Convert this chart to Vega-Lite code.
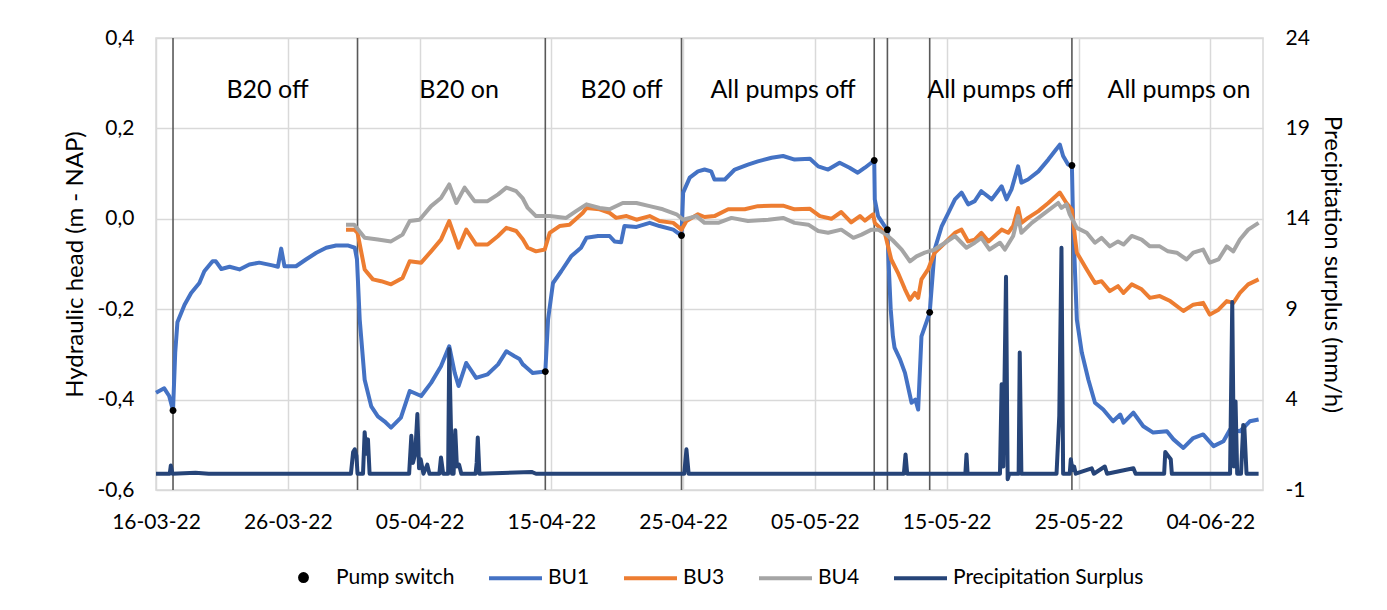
{
  "$schema": "https://vega.github.io/schema/vega-lite/v6.json",
  "autosize": {"type": "none"},
  "padding": {"left": 156, "top": 38, "right": 124, "bottom": 120},
  "width": 1107,
  "height": 452,
  "config": {
    "font": "Lato",
    "view": {"stroke": "#D9D9D9", "strokeWidth": 1.5},
    "axis": {"labelColor": "#000", "titleColor": "#000", "titleFontWeight": "normal", "labelFontSize": 21, "titleFontSize": 24, "ticks": false, "domain": false, "gridColor": "#D9D9D9", "gridWidth": 1.5}
  },
  "datasets": {
    "switches": [
      {"t": "2022-03-17T07:00", "v": -0.424},
      {"t": "2022-03-31T07:00", "v": null},
      {"t": "2022-04-14T13:00", "v": -0.338},
      {"t": "2022-04-24T21:00", "v": -0.037},
      {"t": "2022-05-09T12:00", "v": 0.129},
      {"t": "2022-05-10T12:00", "v": -0.024},
      {"t": "2022-05-13T17:00", "v": -0.207},
      {"t": "2022-05-24T12:00", "v": 0.118}
    ],
    "labels": [
      {"t": "2022-03-24T11:00", "y": 0.285, "text": "B20 off"},
      {"t": "2022-04-08T00:00", "y": 0.285, "text": "B20 on"},
      {"t": "2022-04-20T08:00", "y": 0.285, "text": "B20 off"},
      {"t": "2022-05-02T14:00", "y": 0.285, "text": "All pumps off"},
      {"t": "2022-05-19T01:00", "y": 0.285, "text": "All pumps off"},
      {"t": "2022-06-01T15:00", "y": 0.285, "text": "All pumps on"}
    ],
    "heads": [
      {"t":"2022-03-16T00:00","s":"BU1","v":-0.385},{"t":"2022-03-16T15:00","s":"BU1","v":-0.375},{"t":"2022-03-17T00:00","s":"BU1","v":-0.392},{"t":"2022-03-17T07:00","s":"BU1","v":-0.424},{"t":"2022-03-17T11:00","s":"BU1","v":-0.296},{"t":"2022-03-17T15:00","s":"BU1","v":-0.229},{"t":"2022-03-18T04:00","s":"BU1","v":-0.19},{"t":"2022-03-18T16:00","s":"BU1","v":-0.164},{"t":"2022-03-19T07:00","s":"BU1","v":-0.142},{"t":"2022-03-19T16:00","s":"BU1","v":-0.116},{"t":"2022-03-20T07:00","s":"BU1","v":-0.094},{"t":"2022-03-20T13:00","s":"BU1","v":-0.094},{"t":"2022-03-20T23:00","s":"BU1","v":-0.111},{"t":"2022-03-21T14:00","s":"BU1","v":-0.106},{"t":"2022-03-22T08:00","s":"BU1","v":-0.112},{"t":"2022-03-23T02:00","s":"BU1","v":-0.101},{"t":"2022-03-23T20:00","s":"BU1","v":-0.097},{"t":"2022-03-24T20:00","s":"BU1","v":-0.103},{"t":"2022-03-25T06:00","s":"BU1","v":-0.106},{"t":"2022-03-25T12:00","s":"BU1","v":-0.066},{"t":"2022-03-25T18:00","s":"BU1","v":-0.105},{"t":"2022-03-26T15:00","s":"BU1","v":-0.105},{"t":"2022-03-27T09:00","s":"BU1","v":-0.09},{"t":"2022-03-28T04:00","s":"BU1","v":-0.075},{"t":"2022-03-28T22:00","s":"BU1","v":-0.064},{"t":"2022-03-29T16:00","s":"BU1","v":-0.059},{"t":"2022-03-30T13:00","s":"BU1","v":-0.059},{"t":"2022-03-31T02:00","s":"BU1","v":-0.064},{"t":"2022-03-31T06:00","s":"BU1","v":-0.09},{"t":"2022-03-31T11:00","s":"BU1","v":-0.223},{"t":"2022-03-31T20:00","s":"BU1","v":-0.356},{"t":"2022-04-01T08:00","s":"BU1","v":-0.415},{"t":"2022-04-01T20:00","s":"BU1","v":-0.437},{"t":"2022-04-02T08:00","s":"BU1","v":-0.448},{"t":"2022-04-02T20:00","s":"BU1","v":-0.462},{"t":"2022-04-03T14:00","s":"BU1","v":-0.44},{"t":"2022-04-04T06:00","s":"BU1","v":-0.381},{"t":"2022-04-05T03:00","s":"BU1","v":-0.392},{"t":"2022-04-05T21:00","s":"BU1","v":-0.363},{"t":"2022-04-06T15:00","s":"BU1","v":-0.326},{"t":"2022-04-07T06:00","s":"BU1","v":-0.282},{"t":"2022-04-07T16:00","s":"BU1","v":-0.341},{"t":"2022-04-07T23:00","s":"BU1","v":-0.37},{"t":"2022-04-08T13:00","s":"BU1","v":-0.319},{"t":"2022-04-09T07:00","s":"BU1","v":-0.352},{"t":"2022-04-10T04:00","s":"BU1","v":-0.344},{"t":"2022-04-10T23:00","s":"BU1","v":-0.322},{"t":"2022-04-11T14:00","s":"BU1","v":-0.293},{"t":"2022-04-12T05:00","s":"BU1","v":-0.304},{"t":"2022-04-12T14:00","s":"BU1","v":-0.31},{"t":"2022-04-12T20:00","s":"BU1","v":-0.322},{"t":"2022-04-13T00:00","s":"BU1","v":-0.326},{"t":"2022-04-13T14:00","s":"BU1","v":-0.341},{"t":"2022-04-14T13:00","s":"BU1","v":-0.338},{"t":"2022-04-14T18:00","s":"BU1","v":-0.223},{"t":"2022-04-15T03:00","s":"BU1","v":-0.142},{"t":"2022-04-15T18:00","s":"BU1","v":-0.116},{"t":"2022-04-16T12:00","s":"BU1","v":-0.083},{"t":"2022-04-17T06:00","s":"BU1","v":-0.064},{"t":"2022-04-17T16:00","s":"BU1","v":-0.042},{"t":"2022-04-18T13:00","s":"BU1","v":-0.038},{"t":"2022-04-19T10:00","s":"BU1","v":-0.038},{"t":"2022-04-19T19:00","s":"BU1","v":-0.05},{"t":"2022-04-20T07:00","s":"BU1","v":-0.052},{"t":"2022-04-20T13:00","s":"BU1","v":-0.016},{"t":"2022-04-21T11:00","s":"BU1","v":-0.018},{"t":"2022-04-22T11:00","s":"BU1","v":-0.009},{"t":"2022-04-23T05:00","s":"BU1","v":-0.016},{"t":"2022-04-24T06:00","s":"BU1","v":-0.024},{"t":"2022-04-24T21:00","s":"BU1","v":-0.037},{"t":"2022-04-25T00:00","s":"BU1","v":0.058},{"t":"2022-04-25T12:00","s":"BU1","v":0.091},{"t":"2022-04-26T03:00","s":"BU1","v":0.105},{"t":"2022-04-26T15:00","s":"BU1","v":0.109},{"t":"2022-04-27T03:00","s":"BU1","v":0.105},{"t":"2022-04-27T09:00","s":"BU1","v":0.087},{"t":"2022-04-28T04:00","s":"BU1","v":0.087},{"t":"2022-04-28T22:00","s":"BU1","v":0.109},{"t":"2022-04-29T22:00","s":"BU1","v":0.12},{"t":"2022-04-30T16:00","s":"BU1","v":0.127},{"t":"2022-05-01T17:00","s":"BU1","v":0.135},{"t":"2022-05-02T14:00","s":"BU1","v":0.139},{"t":"2022-05-03T11:00","s":"BU1","v":0.131},{"t":"2022-05-04T15:00","s":"BU1","v":0.133},{"t":"2022-05-05T06:00","s":"BU1","v":0.116},{"t":"2022-05-06T00:00","s":"BU1","v":0.109},{"t":"2022-05-06T21:00","s":"BU1","v":0.124},{"t":"2022-05-07T15:00","s":"BU1","v":0.113},{"t":"2022-05-08T06:00","s":"BU1","v":0.102},{"t":"2022-05-08T19:00","s":"BU1","v":0.113},{"t":"2022-05-09T12:00","s":"BU1","v":0.129},{"t":"2022-05-09T13:00","s":"BU1","v":0.043},{"t":"2022-05-09T19:00","s":"BU1","v":0.006},{"t":"2022-05-10T07:00","s":"BU1","v":-0.016},{"t":"2022-05-10T12:00","s":"BU1","v":-0.024},{"t":"2022-05-10T15:00","s":"BU1","v":-0.12},{"t":"2022-05-10T18:00","s":"BU1","v":-0.2},{"t":"2022-05-10T22:00","s":"BU1","v":-0.26},{"t":"2022-05-11T01:00","s":"BU1","v":-0.285},{"t":"2022-05-11T11:00","s":"BU1","v":-0.311},{"t":"2022-05-11T20:00","s":"BU1","v":-0.341},{"t":"2022-05-12T08:00","s":"BU1","v":-0.407},{"t":"2022-05-12T15:00","s":"BU1","v":-0.4},{"t":"2022-05-12T20:00","s":"BU1","v":-0.422},{"t":"2022-05-13T02:00","s":"BU1","v":-0.26},{"t":"2022-05-13T17:00","s":"BU1","v":-0.208},{"t":"2022-05-14T02:00","s":"BU1","v":-0.068},{"t":"2022-05-14T15:00","s":"BU1","v":-0.016},{"t":"2022-05-15T03:00","s":"BU1","v":0.013},{"t":"2022-05-15T15:00","s":"BU1","v":0.043},{"t":"2022-05-16T03:00","s":"BU1","v":0.058},{"t":"2022-05-16T15:00","s":"BU1","v":0.032},{"t":"2022-05-17T03:00","s":"BU1","v":0.039},{"t":"2022-05-17T15:00","s":"BU1","v":0.061},{"t":"2022-05-18T10:00","s":"BU1","v":0.043},{"t":"2022-05-19T04:00","s":"BU1","v":0.072},{"t":"2022-05-19T13:00","s":"BU1","v":0.043},{"t":"2022-05-19T22:00","s":"BU1","v":0.065},{"t":"2022-05-20T10:00","s":"BU1","v":0.116},{"t":"2022-05-20T16:00","s":"BU1","v":0.08},{"t":"2022-05-21T04:00","s":"BU1","v":0.087},{"t":"2022-05-21T23:00","s":"BU1","v":0.105},{"t":"2022-05-22T17:00","s":"BU1","v":0.131},{"t":"2022-05-23T05:00","s":"BU1","v":0.15},{"t":"2022-05-23T14:00","s":"BU1","v":0.164},{"t":"2022-05-23T20:00","s":"BU1","v":0.139},{"t":"2022-05-24T05:00","s":"BU1","v":0.12},{"t":"2022-05-24T12:00","s":"BU1","v":0.118},{"t":"2022-05-24T14:00","s":"BU1","v":-0.002},{"t":"2022-05-24T21:00","s":"BU1","v":-0.223},{"t":"2022-05-25T06:00","s":"BU1","v":-0.296},{"t":"2022-05-25T18:00","s":"BU1","v":-0.356},{"t":"2022-05-26T06:00","s":"BU1","v":-0.407},{"t":"2022-05-26T21:00","s":"BU1","v":-0.422},{"t":"2022-05-27T15:00","s":"BU1","v":-0.448},{"t":"2022-05-28T04:00","s":"BU1","v":-0.433},{"t":"2022-05-28T10:00","s":"BU1","v":-0.451},{"t":"2022-05-29T04:00","s":"BU1","v":-0.429},{"t":"2022-05-29T22:00","s":"BU1","v":-0.459},{"t":"2022-05-30T16:00","s":"BU1","v":-0.473},{"t":"2022-05-31T17:00","s":"BU1","v":-0.47},{"t":"2022-06-01T05:00","s":"BU1","v":-0.488},{"t":"2022-06-01T23:00","s":"BU1","v":-0.507},{"t":"2022-06-02T17:00","s":"BU1","v":-0.485},{"t":"2022-06-03T11:00","s":"BU1","v":-0.477},{"t":"2022-06-04T06:00","s":"BU1","v":-0.503},{"t":"2022-06-05T00:00","s":"BU1","v":-0.492},{"t":"2022-06-05T12:00","s":"BU1","v":-0.466},{"t":"2022-06-06T06:00","s":"BU1","v":-0.47},{"t":"2022-06-07T00:00","s":"BU1","v":-0.448},{"t":"2022-06-07T16:00","s":"BU1","v":-0.444},
      {"t":"2022-03-30T10:00","s":"BU3","v":-0.024},{"t":"2022-03-31T01:00","s":"BU3","v":-0.024},{"t":"2022-03-31T07:00","s":"BU3","v":-0.031},{"t":"2022-03-31T20:00","s":"BU3","v":-0.112},{"t":"2022-04-01T11:00","s":"BU3","v":-0.134},{"t":"2022-04-02T02:00","s":"BU3","v":-0.138},{"t":"2022-04-02T20:00","s":"BU3","v":-0.145},{"t":"2022-04-03T17:00","s":"BU3","v":-0.131},{"t":"2022-04-04T06:00","s":"BU3","v":-0.094},{"t":"2022-04-05T03:00","s":"BU3","v":-0.097},{"t":"2022-04-05T21:00","s":"BU3","v":-0.072},{"t":"2022-04-06T15:00","s":"BU3","v":-0.046},{"t":"2022-04-07T06:00","s":"BU3","v":-0.005},{"t":"2022-04-07T23:00","s":"BU3","v":-0.064},{"t":"2022-04-08T13:00","s":"BU3","v":-0.024},{"t":"2022-04-09T07:00","s":"BU3","v":-0.057},{"t":"2022-04-10T04:00","s":"BU3","v":-0.057},{"t":"2022-04-10T23:00","s":"BU3","v":-0.038},{"t":"2022-04-11T14:00","s":"BU3","v":-0.02},{"t":"2022-04-12T08:00","s":"BU3","v":-0.027},{"t":"2022-04-12T20:00","s":"BU3","v":-0.045},{"t":"2022-04-13T05:00","s":"BU3","v":-0.064},{"t":"2022-04-13T20:00","s":"BU3","v":-0.072},{"t":"2022-04-14T12:00","s":"BU3","v":-0.068},{"t":"2022-04-14T21:00","s":"BU3","v":-0.031},{"t":"2022-04-15T15:00","s":"BU3","v":-0.016},{"t":"2022-04-16T09:00","s":"BU3","v":-0.013},{"t":"2022-04-17T09:00","s":"BU3","v":0.013},{"t":"2022-04-17T16:00","s":"BU3","v":0.024},{"t":"2022-04-18T16:00","s":"BU3","v":0.021},{"t":"2022-04-19T10:00","s":"BU3","v":0.013},{"t":"2022-04-19T22:00","s":"BU3","v":0.002},{"t":"2022-04-20T17:00","s":"BU3","v":0.006},{"t":"2022-04-21T11:00","s":"BU3","v":-0.002},{"t":"2022-04-22T11:00","s":"BU3","v":0.006},{"t":"2022-04-23T05:00","s":"BU3","v":-0.005},{"t":"2022-04-24T06:00","s":"BU3","v":-0.009},{"t":"2022-04-24T21:00","s":"BU3","v":-0.024},{"t":"2022-04-25T06:00","s":"BU3","v":-0.005},{"t":"2022-04-26T03:00","s":"BU3","v":0.01},{"t":"2022-04-26T15:00","s":"BU3","v":0.004},{"t":"2022-04-27T09:00","s":"BU3","v":0.006},{"t":"2022-04-28T10:00","s":"BU3","v":0.021},{"t":"2022-04-29T16:00","s":"BU3","v":0.021},{"t":"2022-04-30T16:00","s":"BU3","v":0.028},{"t":"2022-05-01T17:00","s":"BU3","v":0.029},{"t":"2022-05-02T14:00","s":"BU3","v":0.029},{"t":"2022-05-03T11:00","s":"BU3","v":0.021},{"t":"2022-05-04T15:00","s":"BU3","v":0.022},{"t":"2022-05-05T09:00","s":"BU3","v":0.006},{"t":"2022-05-06T06:00","s":"BU3","v":0.0},{"t":"2022-05-07T00:00","s":"BU3","v":0.015},{"t":"2022-05-07T18:00","s":"BU3","v":-0.008},{"t":"2022-05-08T10:00","s":"BU3","v":0.006},{"t":"2022-05-08T19:00","s":"BU3","v":-0.004},{"t":"2022-05-09T10:00","s":"BU3","v":0.01},{"t":"2022-05-09T13:00","s":"BU3","v":-0.009},{"t":"2022-05-10T07:00","s":"BU3","v":-0.03},{"t":"2022-05-10T19:00","s":"BU3","v":-0.09},{"t":"2022-05-11T07:00","s":"BU3","v":-0.119},{"t":"2022-05-11T20:00","s":"BU3","v":-0.156},{"t":"2022-05-12T05:00","s":"BU3","v":-0.179},{"t":"2022-05-12T14:00","s":"BU3","v":-0.164},{"t":"2022-05-12T20:00","s":"BU3","v":-0.175},{"t":"2022-05-13T02:00","s":"BU3","v":-0.134},{"t":"2022-05-13T14:00","s":"BU3","v":-0.112},{"t":"2022-05-14T02:00","s":"BU3","v":-0.075},{"t":"2022-05-14T21:00","s":"BU3","v":-0.053},{"t":"2022-05-15T15:00","s":"BU3","v":-0.031},{"t":"2022-05-16T03:00","s":"BU3","v":-0.024},{"t":"2022-05-16T15:00","s":"BU3","v":-0.05},{"t":"2022-05-17T03:00","s":"BU3","v":-0.046},{"t":"2022-05-17T15:00","s":"BU3","v":-0.031},{"t":"2022-05-18T04:00","s":"BU3","v":-0.05},{"t":"2022-05-19T04:00","s":"BU3","v":-0.024},{"t":"2022-05-19T16:00","s":"BU3","v":-0.031},{"t":"2022-05-20T01:00","s":"BU3","v":-0.016},{"t":"2022-05-20T10:00","s":"BU3","v":0.024},{"t":"2022-05-20T16:00","s":"BU3","v":-0.009},{"t":"2022-05-21T04:00","s":"BU3","v":0.002},{"t":"2022-05-21T23:00","s":"BU3","v":0.017},{"t":"2022-05-22T17:00","s":"BU3","v":0.035},{"t":"2022-05-23T14:00","s":"BU3","v":0.058},{"t":"2022-05-24T02:00","s":"BU3","v":0.035},{"t":"2022-05-24T12:00","s":"BU3","v":0.02},{"t":"2022-05-24T18:00","s":"BU3","v":-0.046},{"t":"2022-05-24T21:00","s":"BU3","v":-0.075},{"t":"2022-05-25T15:00","s":"BU3","v":-0.112},{"t":"2022-05-26T06:00","s":"BU3","v":-0.142},{"t":"2022-05-26T18:00","s":"BU3","v":-0.138},{"t":"2022-05-27T09:00","s":"BU3","v":-0.16},{"t":"2022-05-28T00:00","s":"BU3","v":-0.149},{"t":"2022-05-28T10:00","s":"BU3","v":-0.164},{"t":"2022-05-29T01:00","s":"BU3","v":-0.145},{"t":"2022-05-29T19:00","s":"BU3","v":-0.156},{"t":"2022-05-30T10:00","s":"BU3","v":-0.175},{"t":"2022-05-31T04:00","s":"BU3","v":-0.171},{"t":"2022-05-31T23:00","s":"BU3","v":-0.182},{"t":"2022-06-01T23:00","s":"BU3","v":-0.204},{"t":"2022-06-02T17:00","s":"BU3","v":-0.19},{"t":"2022-06-03T11:00","s":"BU3","v":-0.186},{"t":"2022-06-03T23:00","s":"BU3","v":-0.212},{"t":"2022-06-04T15:00","s":"BU3","v":-0.201},{"t":"2022-06-05T06:00","s":"BU3","v":-0.182},{"t":"2022-06-05T18:00","s":"BU3","v":-0.186},{"t":"2022-06-06T06:00","s":"BU3","v":-0.164},{"t":"2022-06-06T21:00","s":"BU3","v":-0.145},{"t":"2022-06-07T16:00","s":"BU3","v":-0.134},
      {"t":"2022-03-30T10:00","s":"BU4","v":-0.013},{"t":"2022-03-31T01:00","s":"BU4","v":-0.013},{"t":"2022-03-31T20:00","s":"BU4","v":-0.042},{"t":"2022-04-01T20:00","s":"BU4","v":-0.046},{"t":"2022-04-02T20:00","s":"BU4","v":-0.05},{"t":"2022-04-03T17:00","s":"BU4","v":-0.035},{"t":"2022-04-04T06:00","s":"BU4","v":-0.005},{"t":"2022-04-05T00:00","s":"BU4","v":-0.002},{"t":"2022-04-05T21:00","s":"BU4","v":0.028},{"t":"2022-04-06T15:00","s":"BU4","v":0.046},{"t":"2022-04-07T06:00","s":"BU4","v":0.076},{"t":"2022-04-07T19:00","s":"BU4","v":0.035},{"t":"2022-04-08T10:00","s":"BU4","v":0.069},{"t":"2022-04-09T04:00","s":"BU4","v":0.039},{"t":"2022-04-10T04:00","s":"BU4","v":0.039},{"t":"2022-04-10T23:00","s":"BU4","v":0.054},{"t":"2022-04-11T14:00","s":"BU4","v":0.069},{"t":"2022-04-12T08:00","s":"BU4","v":0.061},{"t":"2022-04-12T20:00","s":"BU4","v":0.045},{"t":"2022-04-13T05:00","s":"BU4","v":0.024},{"t":"2022-04-13T20:00","s":"BU4","v":0.006},{"t":"2022-04-14T21:00","s":"BU4","v":0.006},{"t":"2022-04-16T03:00","s":"BU4","v":0.002},{"t":"2022-04-16T21:00","s":"BU4","v":0.017},{"t":"2022-04-17T16:00","s":"BU4","v":0.032},{"t":"2022-04-18T16:00","s":"BU4","v":0.024},{"t":"2022-04-19T10:00","s":"BU4","v":0.021},{"t":"2022-04-20T10:00","s":"BU4","v":0.035},{"t":"2022-04-21T11:00","s":"BU4","v":0.035},{"t":"2022-04-22T11:00","s":"BU4","v":0.028},{"t":"2022-04-23T11:00","s":"BU4","v":0.021},{"t":"2022-04-24T12:00","s":"BU4","v":0.01},{"t":"2022-04-25T00:00","s":"BU4","v":-0.002},{"t":"2022-04-26T00:00","s":"BU4","v":0.006},{"t":"2022-04-26T15:00","s":"BU4","v":-0.009},{"t":"2022-04-27T16:00","s":"BU4","v":-0.009},{"t":"2022-04-28T16:00","s":"BU4","v":0.002},{"t":"2022-04-29T22:00","s":"BU4","v":-0.005},{"t":"2022-05-01T11:00","s":"BU4","v":-0.002},{"t":"2022-05-02T14:00","s":"BU4","v":0.002},{"t":"2022-05-03T11:00","s":"BU4","v":-0.009},{"t":"2022-05-04T12:00","s":"BU4","v":-0.013},{"t":"2022-05-05T06:00","s":"BU4","v":-0.027},{"t":"2022-05-06T00:00","s":"BU4","v":-0.031},{"t":"2022-05-07T00:00","s":"BU4","v":-0.024},{"t":"2022-05-07T22:00","s":"BU4","v":-0.042},{"t":"2022-05-08T13:00","s":"BU4","v":-0.035},{"t":"2022-05-09T07:00","s":"BU4","v":-0.024},{"t":"2022-05-09T19:00","s":"BU4","v":-0.024},{"t":"2022-05-10T10:00","s":"BU4","v":-0.035},{"t":"2022-05-10T22:00","s":"BU4","v":-0.048},{"t":"2022-05-11T14:00","s":"BU4","v":-0.068},{"t":"2022-05-12T05:00","s":"BU4","v":-0.094},{"t":"2022-05-12T17:00","s":"BU4","v":-0.083},{"t":"2022-05-13T08:00","s":"BU4","v":-0.075},{"t":"2022-05-14T02:00","s":"BU4","v":-0.068},{"t":"2022-05-14T21:00","s":"BU4","v":-0.053},{"t":"2022-05-15T15:00","s":"BU4","v":-0.038},{"t":"2022-05-16T12:00","s":"BU4","v":-0.064},{"t":"2022-05-17T03:00","s":"BU4","v":-0.053},{"t":"2022-05-17T15:00","s":"BU4","v":-0.042},{"t":"2022-05-18T06:00","s":"BU4","v":-0.068},{"t":"2022-05-19T01:00","s":"BU4","v":-0.053},{"t":"2022-05-19T10:00","s":"BU4","v":-0.068},{"t":"2022-05-20T01:00","s":"BU4","v":-0.038},{"t":"2022-05-20T10:00","s":"BU4","v":0.006},{"t":"2022-05-20T16:00","s":"BU4","v":-0.031},{"t":"2022-05-21T11:00","s":"BU4","v":-0.009},{"t":"2022-05-22T11:00","s":"BU4","v":0.013},{"t":"2022-05-23T11:00","s":"BU4","v":0.035},{"t":"2022-05-23T17:00","s":"BU4","v":0.024},{"t":"2022-05-24T02:00","s":"BU4","v":0.032},{"t":"2022-05-24T08:00","s":"BU4","v":0.01},{"t":"2022-05-24T21:00","s":"BU4","v":-0.02},{"t":"2022-05-25T15:00","s":"BU4","v":-0.031},{"t":"2022-05-26T06:00","s":"BU4","v":-0.053},{"t":"2022-05-26T18:00","s":"BU4","v":-0.042},{"t":"2022-05-27T09:00","s":"BU4","v":-0.061},{"t":"2022-05-28T00:00","s":"BU4","v":-0.05},{"t":"2022-05-28T10:00","s":"BU4","v":-0.057},{"t":"2022-05-29T01:00","s":"BU4","v":-0.038},{"t":"2022-05-29T19:00","s":"BU4","v":-0.046},{"t":"2022-05-30T10:00","s":"BU4","v":-0.061},{"t":"2022-05-31T04:00","s":"BU4","v":-0.061},{"t":"2022-05-31T19:00","s":"BU4","v":-0.072},{"t":"2022-06-01T11:00","s":"BU4","v":-0.075},{"t":"2022-06-02T05:00","s":"BU4","v":-0.09},{"t":"2022-06-02T17:00","s":"BU4","v":-0.075},{"t":"2022-06-03T11:00","s":"BU4","v":-0.068},{"t":"2022-06-03T23:00","s":"BU4","v":-0.097},{"t":"2022-06-04T15:00","s":"BU4","v":-0.09},{"t":"2022-06-05T06:00","s":"BU4","v":-0.061},{"t":"2022-06-05T18:00","s":"BU4","v":-0.072},{"t":"2022-06-06T06:00","s":"BU4","v":-0.046},{"t":"2022-06-06T21:00","s":"BU4","v":-0.024},{"t":"2022-06-07T16:00","s":"BU4","v":-0.009}
    ],
    "precip": [
      {"t":"2022-03-16T00:00","p":-0.1},{"t":"2022-03-17T01:00","p":-0.1},{"t":"2022-03-17T03:00","p":0.35},{"t":"2022-03-17T06:00","p":-0.1},{"t":"2022-03-19T00:00","p":-0.05},{"t":"2022-03-20T00:00","p":-0.1},{"t":"2022-03-30T19:00","p":-0.1},{"t":"2022-03-30T23:00","p":1.1},{"t":"2022-03-31T02:00","p":1.25},{"t":"2022-03-31T05:00","p":0.9},{"t":"2022-03-31T07:00","p":-0.1},{"t":"2022-03-31T17:00","p":-0.1},{"t":"2022-03-31T20:00","p":2.2},{"t":"2022-03-31T23:00","p":1.0},{"t":"2022-04-01T02:00","p":1.8},{"t":"2022-04-01T05:00","p":-0.1},{"t":"2022-04-04T05:00","p":-0.1},{"t":"2022-04-04T09:00","p":2.0},{"t":"2022-04-04T12:00","p":0.5},{"t":"2022-04-04T16:00","p":1.0},{"t":"2022-04-04T20:00","p":3.2},{"t":"2022-04-04T23:00","p":0.2},{"t":"2022-04-05T02:00","p":0.7},{"t":"2022-04-05T07:00","p":-0.1},{"t":"2022-04-05T14:00","p":0.4},{"t":"2022-04-05T18:00","p":-0.1},{"t":"2022-04-06T12:00","p":-0.1},{"t":"2022-04-06T15:00","p":0.8},{"t":"2022-04-06T19:00","p":-0.1},{"t":"2022-04-07T04:00","p":-0.1},{"t":"2022-04-07T06:00","p":6.8},{"t":"2022-04-07T11:00","p":-0.1},{"t":"2022-04-07T14:00","p":-0.1},{"t":"2022-04-07T17:00","p":2.3},{"t":"2022-04-07T20:00","p":0.3},{"t":"2022-04-08T00:00","p":0.4},{"t":"2022-04-08T04:00","p":-0.1},{"t":"2022-04-09T06:00","p":-0.1},{"t":"2022-04-09T08:00","p":0.5},{"t":"2022-04-09T10:00","p":1.9},{"t":"2022-04-09T13:00","p":-0.1},{"t":"2022-04-13T12:00","p":0.0},{"t":"2022-04-13T20:00","p":-0.1},{"t":"2022-04-25T02:00","p":-0.1},{"t":"2022-04-25T06:00","p":1.25},{"t":"2022-04-25T10:00","p":-0.1},{"t":"2022-05-11T18:00","p":-0.1},{"t":"2022-05-11T21:00","p":0.97},{"t":"2022-05-12T00:00","p":-0.1},{"t":"2022-05-16T10:00","p":-0.1},{"t":"2022-05-16T12:00","p":0.97},{"t":"2022-05-16T14:00","p":-0.1},{"t":"2022-05-19T01:00","p":-0.1},{"t":"2022-05-19T04:00","p":4.85},{"t":"2022-05-19T07:00","p":0.3},{"t":"2022-05-19T12:00","p":10.8},{"t":"2022-05-19T15:00","p":-0.4},{"t":"2022-05-19T18:00","p":-0.1},{"t":"2022-05-20T11:00","p":-0.1},{"t":"2022-05-20T13:00","p":6.6},{"t":"2022-05-20T16:00","p":-0.1},{"t":"2022-05-23T08:00","p":-0.1},{"t":"2022-05-23T13:00","p":3.1},{"t":"2022-05-23T17:00","p":12.4},{"t":"2022-05-23T20:00","p":-0.1},{"t":"2022-05-24T08:00","p":-0.1},{"t":"2022-05-24T10:00","p":0.7},{"t":"2022-05-24T13:00","p":0.1},{"t":"2022-05-24T16:00","p":0.3},{"t":"2022-05-24T19:00","p":-0.1},{"t":"2022-05-26T00:00","p":0.2},{"t":"2022-05-26T04:00","p":-0.1},{"t":"2022-05-27T00:00","p":0.3},{"t":"2022-05-27T04:00","p":-0.1},{"t":"2022-05-29T04:00","p":0.2},{"t":"2022-05-29T08:00","p":-0.1},{"t":"2022-05-31T12:00","p":-0.1},{"t":"2022-05-31T14:00","p":1.1},{"t":"2022-05-31T19:00","p":0.9},{"t":"2022-06-01T00:00","p":0.7},{"t":"2022-06-01T02:00","p":-0.1},{"t":"2022-06-05T12:00","p":-0.1},{"t":"2022-06-05T16:00","p":9.4},{"t":"2022-06-05T19:00","p":0.3},{"t":"2022-06-05T22:00","p":3.9},{"t":"2022-06-06T01:00","p":-0.1},{"t":"2022-06-06T08:00","p":-0.1},{"t":"2022-06-06T12:00","p":2.6},{"t":"2022-06-06T14:00","p":2.5},{"t":"2022-06-06T18:00","p":-0.1},{"t":"2022-06-07T16:00","p":-0.1}
    ]
  },
  "encoding": {
    "x": {
      "field": "t", "type": "temporal",
      "scale": {"domain": [{"year": 2022, "month": 3, "date": 16}, {"year": 2022, "month": 6, "date": 8}]},
      "axis": {
        "title": null, "format": "%d-%m-%y", "labelPadding": 21, "grid": true, "labelFlush": false, "labelOverlap": false,
        "values": [{"year": 2022, "month": 3, "date": 16}, {"year": 2022, "month": 3, "date": 26}, {"year": 2022, "month": 4, "date": 5}, {"year": 2022, "month": 4, "date": 15}, {"year": 2022, "month": 4, "date": 25}, {"year": 2022, "month": 5, "date": 5}, {"year": 2022, "month": 5, "date": 15}, {"year": 2022, "month": 5, "date": 25}, {"year": 2022, "month": 6, "date": 4}]
      }
    }
  },
  "layer": [
    {
      "data": {"name": "switches"},
      "mark": {"type": "rule", "color": "#595959", "strokeWidth": 1.6}
    },
    {
      "data": {"name": "heads"},
      "mark": {"type": "line", "strokeWidth": 4, "strokeJoin": "round"},
      "encoding": {
        "y": {
          "field": "v", "type": "quantitative",
          "scale": {"domain": [-0.6, 0.4], "nice": false, "zero": false},
          "axis": {"title": "Hydraulic head (m - NAP)", "orient": "left", "values": [-0.6, -0.4, -0.2, 0, 0.2, 0.4], "labelExpr": "replace(replace(format(datum.value, '.1f'), '.', ','), '−', '-')", "labelPadding": 22, "titlePadding": 10, "grid": true}
        },
        "color": {
          "field": "s", "type": "nominal",
          "scale": {"domain": ["Pump switch", "BU1", "BU3", "BU4", "Precipitation Surplus"], "range": ["#000000", "#4472C4", "#ED7D31", "#A5A5A5", "#264478"]},
          "legend": {"title": null, "orient": "none", "legendX": 119, "legendY": 511, "direction": "horizontal", "columns": 5, "symbolSize": 2809, "symbolStrokeWidth": 4, "labelFontSize": 21, "labelLimit": 500, "labelColor": "#000", "labelOffset": 4, "columnPadding": 26,
            "encode": {"symbols": {"update": {"stroke": {"scale": "color", "field": "value"}, "fill": {"scale": "color", "field": "value"}, "strokeWidth": {"value": 4}, "opacity": {"value": 1}}}}}
        }
      }
    },
    {
      "data": {"name": "precip"},
      "mark": {"type": "line", "strokeWidth": 4, "strokeJoin": "round"},
      "encoding": {
        "y": {
          "field": "p", "type": "quantitative",
          "scale": {"domain": [-1, 24], "nice": false, "zero": false},
          "axis": {"title": "Precipitation surplus (mm/h)", "orient": "right", "values": [-1, 4, 9, 14, 19, 24], "labelExpr": "replace(format(datum.value, 'd'), '−', '-')", "labelPadding": 22, "titlePadding": 10, "grid": false}
        },
        "color": {"datum": "Precipitation Surplus"}
      }
    },
    {
      "data": {"name": "switches"},
      "transform": [{"filter": "datum.v != null"}],
      "mark": {"type": "point", "filled": true, "size": 2809, "opacity": 1},
      "encoding": {
        "y": {"field": "v", "type": "quantitative", "scale": {"domain": [-0.6, 0.4], "nice": false, "zero": false}, "axis": null},
        "color": {"datum": "Pump switch"},
        "shape": {
          "datum": "Pump switch",
          "scale": {"domain": ["Pump switch", "BU1", "BU3", "BU4", "Precipitation Surplus"], "range": ["M -0.13 0 A 0.13 0.13 0 1 0 0.13 0 A 0.13 0.13 0 1 0 -0.13 0 Z", "stroke", "stroke", "stroke", "stroke"]},
          "legend": {"title": null, "orient": "none", "legendX": 119, "legendY": 511, "direction": "horizontal", "columns": 5, "symbolSize": 2809, "symbolStrokeWidth": 4, "labelFontSize": 21, "labelLimit": 500, "labelColor": "#000", "labelOffset": 4, "columnPadding": 26}
        }
      }
    },
    {
      "data": {"name": "labels"},
      "mark": {"type": "text", "fontSize": 25, "color": "#000", "align": "center", "baseline": "middle"},
      "encoding": {
        "y": {"field": "y", "type": "quantitative", "scale": {"domain": [-0.6, 0.4], "nice": false, "zero": false}, "axis": null},
        "text": {"field": "text"}
      }
    }
  ],
  "resolve": {"scale": {"y": "independent"}}
}
